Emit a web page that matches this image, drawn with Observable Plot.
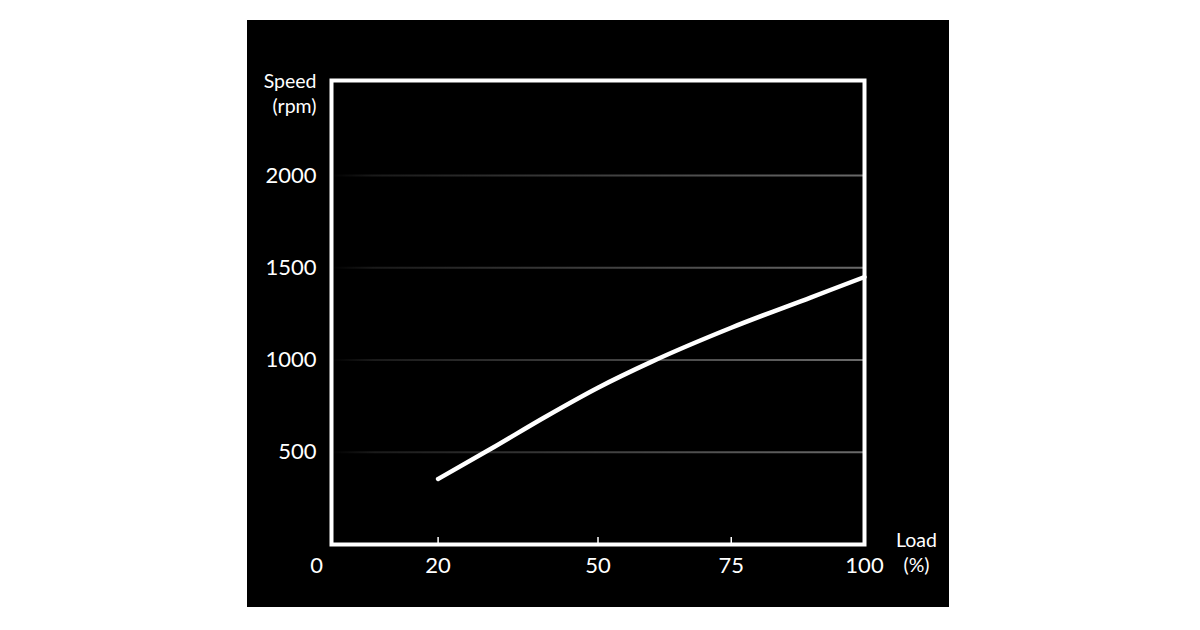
<!DOCTYPE html>
<html>
<head>
<meta charset="utf-8">
<script src="https://cdn.jsdelivr.net/npm/d3@7"></script>
<script src="https://cdn.jsdelivr.net/npm/@observablehq/plot@0.6"></script>
<style>
  body { margin: 0; background: #fff; }
  #chart { position: absolute; left: 247px; top: 20px; }
</style>
</head>
<body>
<div id="chart"></div>
<script>
// load (%) vs speed (rpm)
const load = [20, 30, 40, 50, 60, 75, 90, 100]
const speed = [355, 520, 690, 850, 990, 1175, 1340, 1450]
const yTicks = [500, 1000, 1500, 2000]
const xTicks = [20, 50, 75, 100]
const innerTicks = [20, 50, 75]

const data = load.map((d, i) => ({load: d, speed: speed[i]}))
const font = 'Lato, "Open Sans", sans-serif'

let chart = Plot.plot({
  width: 702,
  height: 587,
  marginLeft: 84,
  marginRight: 85,
  marginTop: 60,
  marginBottom: 63,
  style: {background: 'black', color: 'white', fontFamily: font, fontSize: '22px'},
  x: {domain: [0, 100]},
  y: {domain: [0, 2515]},
  marks: [
    Plot.ruleY(yTicks, {stroke: 'url(#fade)', strokeWidth: 2}),
    Plot.axisY({ticks: yTicks, tickFormat: 'd', tickSize: 0, tickPadding: 15, label: null, fontSize: 22}),
    Plot.axisX({ticks: xTicks, tickFormat: 'd', tickSize: 0, tickPadding: 13, label: null, fontSize: 22}),
    Plot.axisX({ticks: innerTicks, tickSize: -7, text: null, label: null, strokeWidth: 1.5}),
    Plot.text(['0'], {x: 0, y: 0, dx: -15, dy: 21, textAnchor: 'middle', fill: 'white', fontSize: 22}),
    Plot.text(['Speed\n(rpm)'], {frameAnchor: 'top-left', dx: -15, dy: -11, textAnchor: 'end', lineAnchor: 'top', lineHeight: 1.3, fill: 'white', fontSize: 19.5}),
    Plot.text(['Load\n(%)'], {frameAnchor: 'bottom-right', dx: 52, dy: -16, textAnchor: 'middle', lineAnchor: 'top', lineHeight: 1.3, fill: 'white', fontSize: 19.5}),
    Plot.line(data, {x: 'load', y: 'speed', stroke: 'white', strokeWidth: 4.5, curve: 'monotone-x'}),
    Plot.frame({stroke: 'white', strokeWidth: 4})
  ]
})

// grid lines fade out towards the left
const x = chart.scale('x')
const svg = d3.select(chart)
const grad = svg.insert('defs', ':first-child').append('linearGradient')
  .attr('id', 'fade')
  .attr('gradientUnits', 'userSpaceOnUse')
  .attr('x1', x.apply(0)).attr('x2', x.apply(100))
  .attr('y1', 0).attr('y2', 0)
grad.append('stop').attr('offset', 0).attr('stop-color', '#000')
grad.append('stop').attr('offset', 0.08).attr('stop-color', '#1a1a1a')
grad.append('stop').attr('offset', 1).attr('stop-color', '#6a6a6a')

d3.select('#chart').append(() => chart)
</script>
</body>
</html>
